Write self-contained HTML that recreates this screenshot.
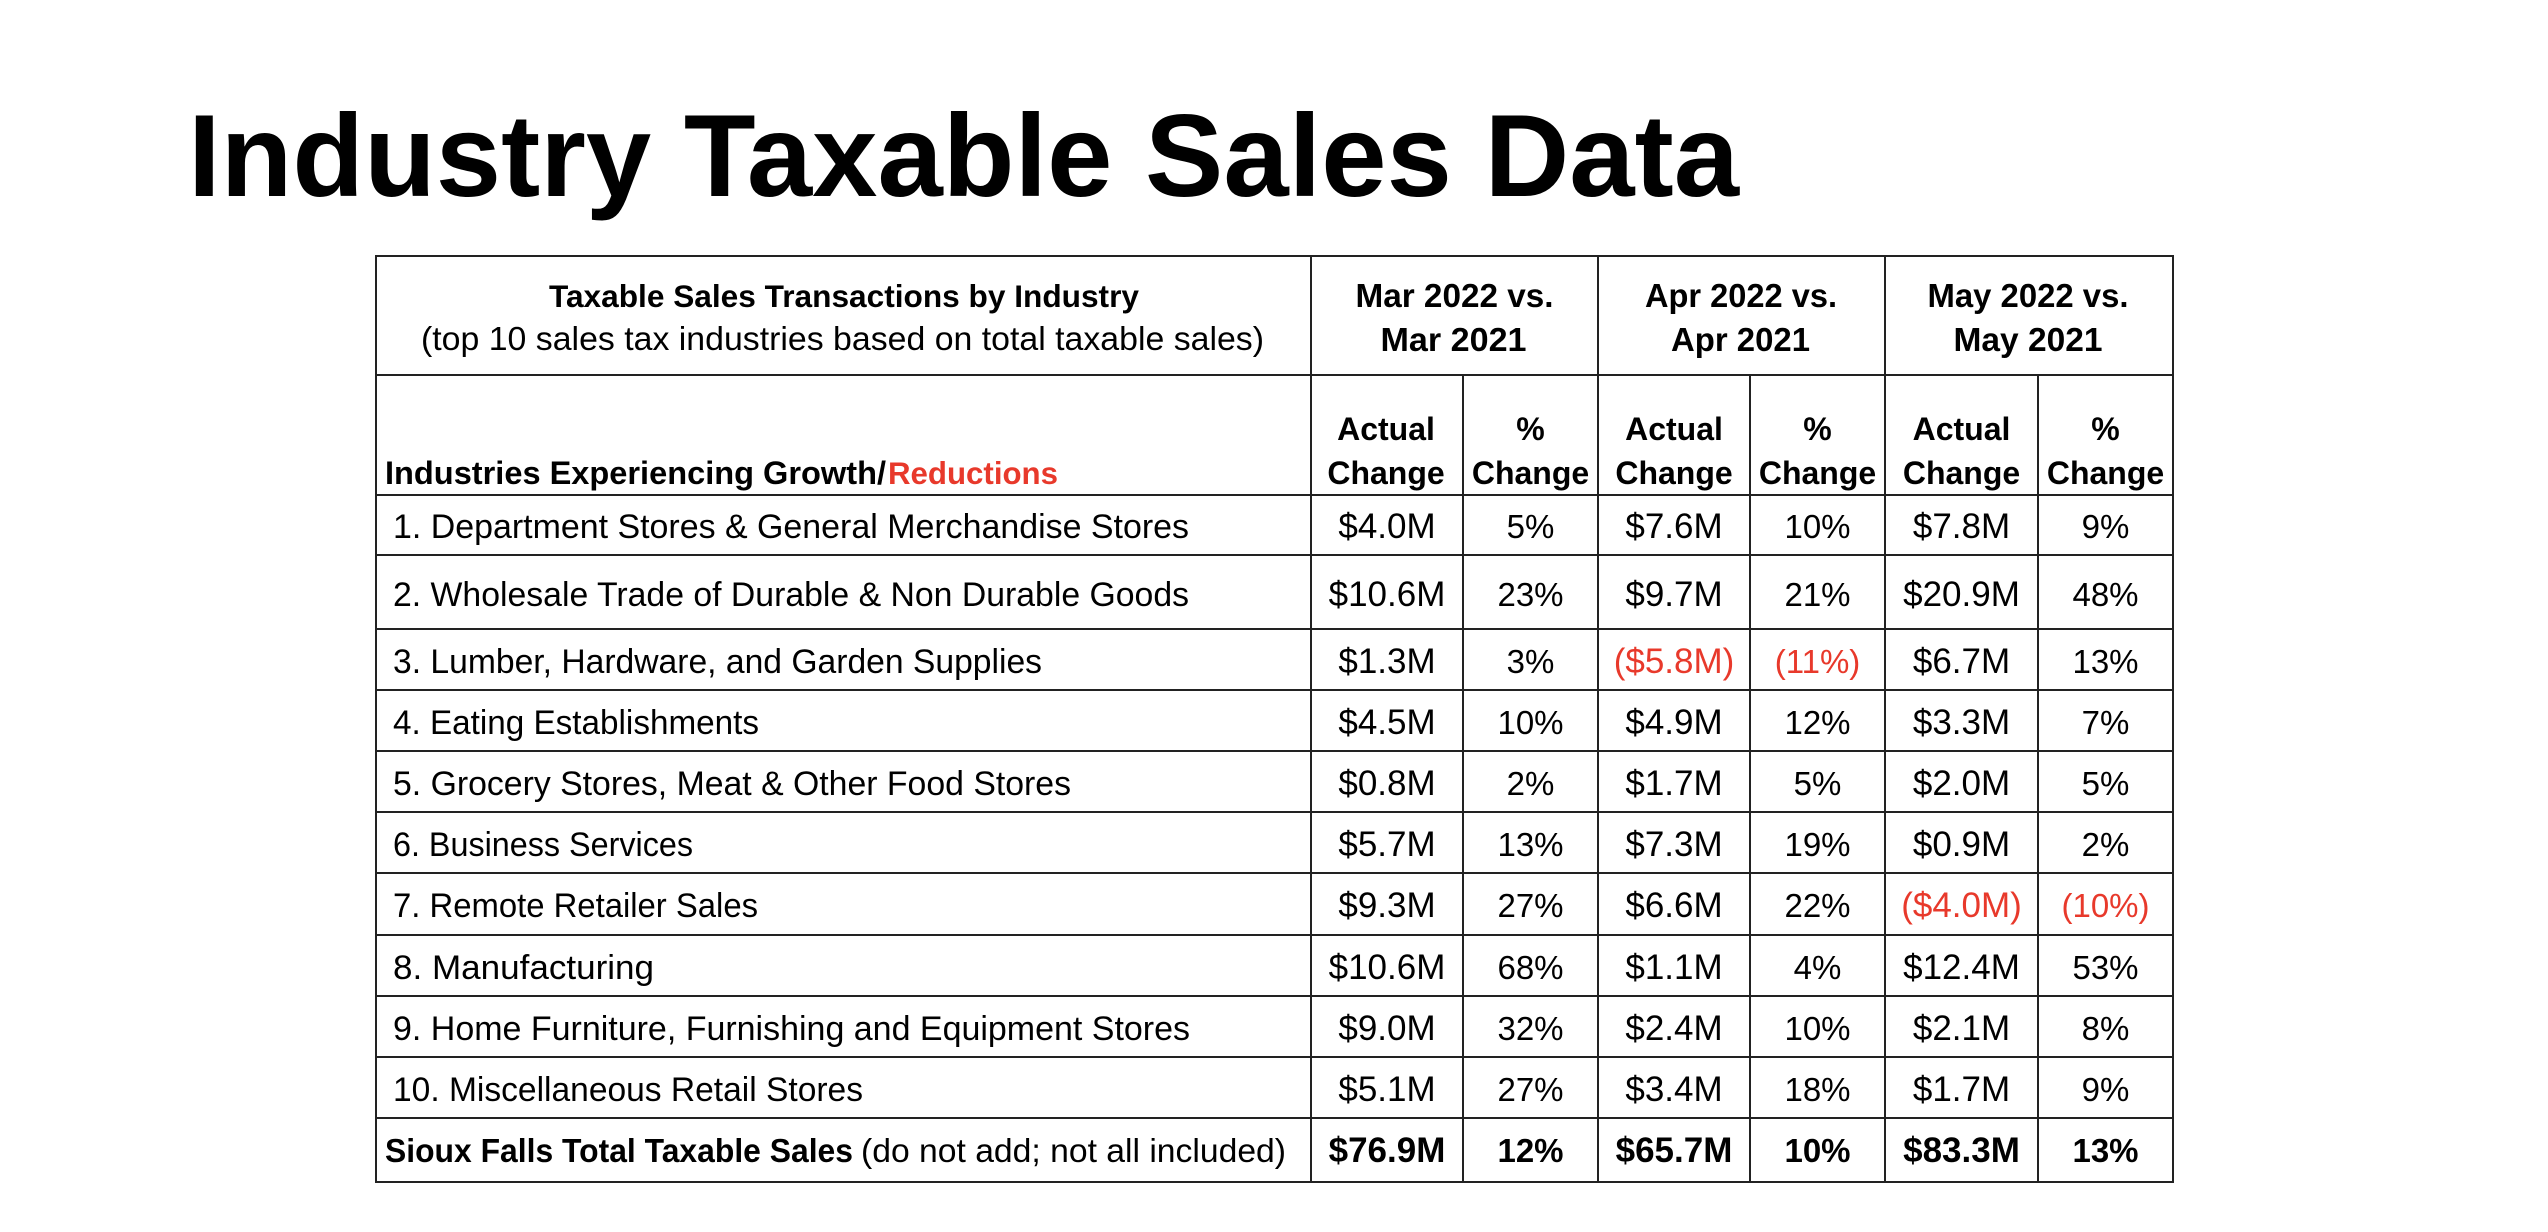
<!DOCTYPE html>
<html>
<head>
<meta charset="utf-8">
<style>
  html,body{margin:0;padding:0;background:#fff;}
  body{width:2548px;height:1232px;overflow:hidden;}
  svg{display:block;}
  text{font-family:"Liberation Sans", Arial, sans-serif;fill:#000;}
  .b{font-weight:bold;}
  .r{fill:#e8392b;}
  .num{font-size:35px;text-anchor:middle;}
  .pct{font-size:33px;text-anchor:middle;}
  .lbl{font-size:34px;}
  .hdr{font-size:32px;font-weight:bold;text-anchor:middle;}
  .grp{font-size:33.5px;font-weight:bold;text-anchor:middle;}
</style>
</head>
<body>
<svg width="2548" height="1232" viewBox="0 0 2548 1232" xmlns="http://www.w3.org/2000/svg">
  <rect x="0" y="0" width="2548" height="1232" fill="#fff"/>

  <!-- Title -->
  <text x="188" y="196" class="b" font-size="117" textLength="1551" lengthAdjust="spacingAndGlyphs">Industry Taxable Sales Data</text>

  <!-- Table grid -->
  <g stroke="#222" stroke-width="2" fill="none">
    <rect x="376" y="256" width="1797" height="926"/>
    <!-- horizontal lines -->
    <line x1="376" y1="375" x2="2173" y2="375"/>
    <line x1="376" y1="495" x2="2173" y2="495"/>
    <line x1="376" y1="555" x2="2173" y2="555"/>
    <line x1="376" y1="629" x2="2173" y2="629"/>
    <line x1="376" y1="690" x2="2173" y2="690"/>
    <line x1="376" y1="751" x2="2173" y2="751"/>
    <line x1="376" y1="812" x2="2173" y2="812"/>
    <line x1="376" y1="873" x2="2173" y2="873"/>
    <line x1="376" y1="935" x2="2173" y2="935"/>
    <line x1="376" y1="996" x2="2173" y2="996"/>
    <line x1="376" y1="1057" x2="2173" y2="1057"/>
    <line x1="376" y1="1118" x2="2173" y2="1118"/>
    <!-- vertical lines -->
    <line x1="1311" y1="256" x2="1311" y2="1182"/>
    <line x1="1598" y1="256" x2="1598" y2="1182"/>
    <line x1="1885" y1="256" x2="1885" y2="1182"/>
    <line x1="1463" y1="375" x2="1463" y2="1182"/>
    <line x1="1750" y1="375" x2="1750" y2="1182"/>
    <line x1="2038" y1="375" x2="2038" y2="1182"/>
  </g>

  <!-- Header row 1 -->
  <text x="844" y="307" class="b" font-size="31.5" text-anchor="middle" textLength="590" lengthAdjust="spacingAndGlyphs">Taxable Sales Transactions by Industry</text>
  <text x="842.5" y="350" font-size="33.5" text-anchor="middle" textLength="843" lengthAdjust="spacingAndGlyphs">(top 10 sales tax industries based on total taxable sales)</text>

  <text x="1454.5" y="307" class="grp" textLength="198" lengthAdjust="spacingAndGlyphs">Mar 2022 vs.</text>
  <text x="1453.5" y="351" class="grp" textLength="146" lengthAdjust="spacingAndGlyphs">Mar 2021</text>
  <text x="1741" y="307" class="grp" textLength="192" lengthAdjust="spacingAndGlyphs">Apr 2022 vs.</text>
  <text x="1740.5" y="351" class="grp" textLength="139" lengthAdjust="spacingAndGlyphs">Apr 2021</text>
  <text x="2028" y="307" class="grp" textLength="201" lengthAdjust="spacingAndGlyphs">May 2022 vs.</text>
  <text x="2028" y="351" class="grp" textLength="149" lengthAdjust="spacingAndGlyphs">May 2021</text>

  <!-- Header row 2 -->
  <text x="385" y="484" class="b" font-size="32.5" textLength="501" lengthAdjust="spacingAndGlyphs">Industries Experiencing Growth/</text>
  <text x="888" y="484" class="b r" font-size="31.5" textLength="170" lengthAdjust="spacingAndGlyphs">Reductions</text>

  <text x="1386" y="440" class="hdr">Actual</text>
  <text x="1386" y="484" class="hdr">Change</text>
  <text x="1530.5" y="440" class="hdr">%</text>
  <text x="1530.5" y="484" class="hdr">Change</text>
  <text x="1674" y="440" class="hdr">Actual</text>
  <text x="1674" y="484" class="hdr">Change</text>
  <text x="1817.5" y="440" class="hdr">%</text>
  <text x="1817.5" y="484" class="hdr">Change</text>
  <text x="1961.5" y="440" class="hdr">Actual</text>
  <text x="1961.5" y="484" class="hdr">Change</text>
  <text x="2105.5" y="440" class="hdr">%</text>
  <text x="2105.5" y="484" class="hdr">Change</text>

  <!-- Row labels -->
  <text x="393" y="538" class="lbl" textLength="796" lengthAdjust="spacingAndGlyphs">1. Department Stores &amp; General Merchandise Stores</text>
  <text x="393" y="606" class="lbl" textLength="796" lengthAdjust="spacingAndGlyphs">2. Wholesale Trade of Durable &amp; Non Durable Goods</text>
  <text x="393" y="673" class="lbl" textLength="649" lengthAdjust="spacingAndGlyphs">3. Lumber, Hardware, and Garden Supplies</text>
  <text x="393" y="734" class="lbl" textLength="366" lengthAdjust="spacingAndGlyphs">4. Eating Establishments</text>
  <text x="393" y="795" class="lbl" textLength="678" lengthAdjust="spacingAndGlyphs">5. Grocery Stores, Meat &amp; Other Food Stores</text>
  <text x="393" y="856" class="lbl" textLength="300" lengthAdjust="spacingAndGlyphs">6. Business Services</text>
  <text x="393" y="917" class="lbl" textLength="365" lengthAdjust="spacingAndGlyphs">7. Remote Retailer Sales</text>
  <text x="393" y="979" class="lbl" textLength="261" lengthAdjust="spacingAndGlyphs">8. Manufacturing</text>
  <text x="393" y="1040" class="lbl" textLength="797" lengthAdjust="spacingAndGlyphs">9. Home Furniture, Furnishing and Equipment Stores</text>
  <text x="393" y="1101" class="lbl" textLength="470" lengthAdjust="spacingAndGlyphs">10. Miscellaneous Retail Stores</text>
  <text x="385" y="1162" class="b" font-size="33" textLength="468" lengthAdjust="spacingAndGlyphs">Sioux Falls Total Taxable Sales</text>
  <text x="861" y="1162" font-size="33" textLength="425" lengthAdjust="spacingAndGlyphs">(do not add; not all included)</text>

  <!-- Row 1 -->
  <g>
    <text x="1387" y="538" class="num">$4.0M</text>
    <text x="1530.5" y="538" class="pct">5%</text>
    <text x="1674" y="538" class="num">$7.6M</text>
    <text x="1817.5" y="538" class="pct">10%</text>
    <text x="1961.5" y="538" class="num">$7.8M</text>
    <text x="2105.5" y="538" class="pct">9%</text>
  </g>
  <!-- Row 2 -->
  <g>
    <text x="1387" y="606" class="num">$10.6M</text>
    <text x="1530.5" y="606" class="pct">23%</text>
    <text x="1674" y="606" class="num">$9.7M</text>
    <text x="1817.5" y="606" class="pct">21%</text>
    <text x="1961.5" y="606" class="num">$20.9M</text>
    <text x="2105.5" y="606" class="pct">48%</text>
  </g>
  <!-- Row 3 -->
  <g>
    <text x="1387" y="673" class="num">$1.3M</text>
    <text x="1530.5" y="673" class="pct">3%</text>
    <text x="1674" y="673" class="num r">($5.8M)</text>
    <text x="1817.5" y="673" class="pct r">(11%)</text>
    <text x="1961.5" y="673" class="num">$6.7M</text>
    <text x="2105.5" y="673" class="pct">13%</text>
  </g>
  <!-- Row 4 -->
  <g>
    <text x="1387" y="734" class="num">$4.5M</text>
    <text x="1530.5" y="734" class="pct">10%</text>
    <text x="1674" y="734" class="num">$4.9M</text>
    <text x="1817.5" y="734" class="pct">12%</text>
    <text x="1961.5" y="734" class="num">$3.3M</text>
    <text x="2105.5" y="734" class="pct">7%</text>
  </g>
  <!-- Row 5 -->
  <g>
    <text x="1387" y="795" class="num">$0.8M</text>
    <text x="1530.5" y="795" class="pct">2%</text>
    <text x="1674" y="795" class="num">$1.7M</text>
    <text x="1817.5" y="795" class="pct">5%</text>
    <text x="1961.5" y="795" class="num">$2.0M</text>
    <text x="2105.5" y="795" class="pct">5%</text>
  </g>
  <!-- Row 6 -->
  <g>
    <text x="1387" y="856" class="num">$5.7M</text>
    <text x="1530.5" y="856" class="pct">13%</text>
    <text x="1674" y="856" class="num">$7.3M</text>
    <text x="1817.5" y="856" class="pct">19%</text>
    <text x="1961.5" y="856" class="num">$0.9M</text>
    <text x="2105.5" y="856" class="pct">2%</text>
  </g>
  <!-- Row 7 -->
  <g>
    <text x="1387" y="917" class="num">$9.3M</text>
    <text x="1530.5" y="917" class="pct">27%</text>
    <text x="1674" y="917" class="num">$6.6M</text>
    <text x="1817.5" y="917" class="pct">22%</text>
    <text x="1961.5" y="917" class="num r">($4.0M)</text>
    <text x="2105.5" y="917" class="pct r">(10%)</text>
  </g>
  <!-- Row 8 -->
  <g>
    <text x="1387" y="979" class="num">$10.6M</text>
    <text x="1530.5" y="979" class="pct">68%</text>
    <text x="1674" y="979" class="num">$1.1M</text>
    <text x="1817.5" y="979" class="pct">4%</text>
    <text x="1961.5" y="979" class="num">$12.4M</text>
    <text x="2105.5" y="979" class="pct">53%</text>
  </g>
  <!-- Row 9 -->
  <g>
    <text x="1387" y="1040" class="num">$9.0M</text>
    <text x="1530.5" y="1040" class="pct">32%</text>
    <text x="1674" y="1040" class="num">$2.4M</text>
    <text x="1817.5" y="1040" class="pct">10%</text>
    <text x="1961.5" y="1040" class="num">$2.1M</text>
    <text x="2105.5" y="1040" class="pct">8%</text>
  </g>
  <!-- Row 10 -->
  <g>
    <text x="1387" y="1101" class="num">$5.1M</text>
    <text x="1530.5" y="1101" class="pct">27%</text>
    <text x="1674" y="1101" class="num">$3.4M</text>
    <text x="1817.5" y="1101" class="pct">18%</text>
    <text x="1961.5" y="1101" class="num">$1.7M</text>
    <text x="2105.5" y="1101" class="pct">9%</text>
  </g>
  <!-- Total row -->
  <g class="b">
    <text x="1387" y="1162" class="num b">$76.9M</text>
    <text x="1530.5" y="1162" class="pct b">12%</text>
    <text x="1674" y="1162" class="num b">$65.7M</text>
    <text x="1817.5" y="1162" class="pct b">10%</text>
    <text x="1961.5" y="1162" class="num b">$83.3M</text>
    <text x="2105.5" y="1162" class="pct b">13%</text>
  </g>
</svg>
</body>
</html>
